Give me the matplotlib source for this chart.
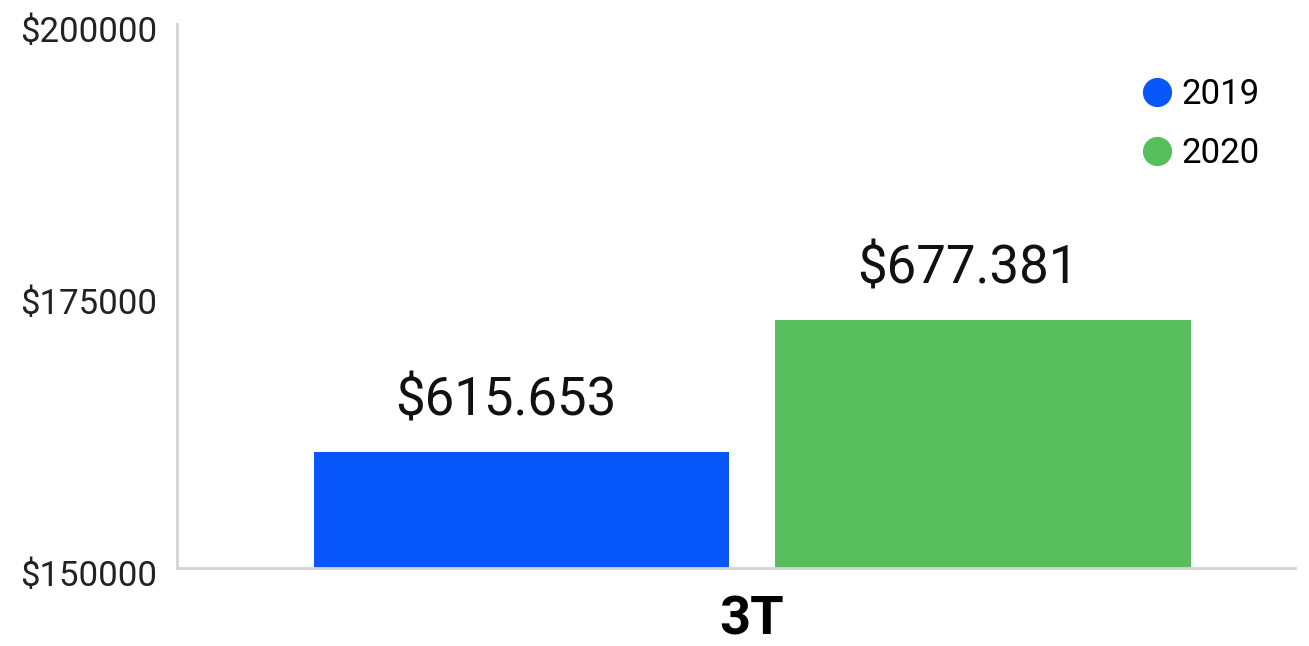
import matplotlib
matplotlib.use("Agg")
import matplotlib.pyplot as plt
import matplotlib.transforms as mtransforms
from matplotlib.lines import Line2D

# data
categories = ["3T"]
series_names = ["2019", "2020"]
values_2019 = [160660]
values_2020 = [172790]
bar_labels_2019 = ["$615.653"]
bar_labels_2020 = ["$677.381"]
y_ticks = [150000, 175000, 200000]
y_tick_labels = ["$150000", "$175000", "$200000"]

colors = ["#0857FA", "#57BE5E"]

plt.rcParams["font.family"] = ["Roboto", "DejaVu Sans"]

fig = plt.figure(figsize=(13.09, 6.46), dpi=100)
ax = fig.add_axes([177 / 1309, 78 / 646, (1295 - 177) / 1309, (568 - 24) / 646])

width = 0.4
offset = 0.2225
x = list(range(len(categories)))

bars1 = ax.bar([i - offset for i in x], values_2019, width, color=colors[0])
bars2 = ax.bar([i + offset for i in x], values_2020, width, color=colors[1])

for bars, labels in [(bars1, bar_labels_2019), (bars2, bar_labels_2020)]:
    for b, lab in zip(bars, labels):
        ax.annotate(lab, (b.get_x() + b.get_width() / 2 - 0.015, b.get_height()),
                    xytext=(0, 18.5), textcoords="offset points",
                    ha="center", va="bottom", fontsize=38, color="#111111")

ax.set_xlim(-0.554, 0.523)
ax.set_ylim(150000, 200000)

ax.set_yticks(y_ticks)
ax.set_yticklabels(y_tick_labels, fontsize=25, color="#222222")
ax.tick_params(axis="y", length=0, pad=14)
# labels sit a few pixels below their gridline in the reference
shift = mtransforms.ScaledTranslation(0, -5 / 100, fig.dpi_scale_trans)
for lab in ax.get_yticklabels():
    lab.set_transform(lab.get_transform() + shift)

ax.set_xticks(x)
ax.set_xticklabels(categories, fontsize=39, fontweight="bold", color="#000000")
ax.tick_params(axis="x", length=0, pad=19)

for side in ["top", "right"]:
    ax.spines[side].set_visible(False)
for side in ["left", "bottom"]:
    ax.spines[side].set_color("#d4d4d4")
    ax.spines[side].set_linewidth(2)

handles = [Line2D([0], [0], marker="o", linestyle="none", markersize=20,
                  markerfacecolor=c, markeredgecolor=c) for c in colors]
ax.legend(handles, series_names, loc="upper right", bbox_to_anchor=(0.996, 0.958),
          frameon=False, fontsize=25, handletextpad=0.2, labelspacing=0.75,
          handlelength=1.0)

plt.savefig("out.png", dpi=100)
